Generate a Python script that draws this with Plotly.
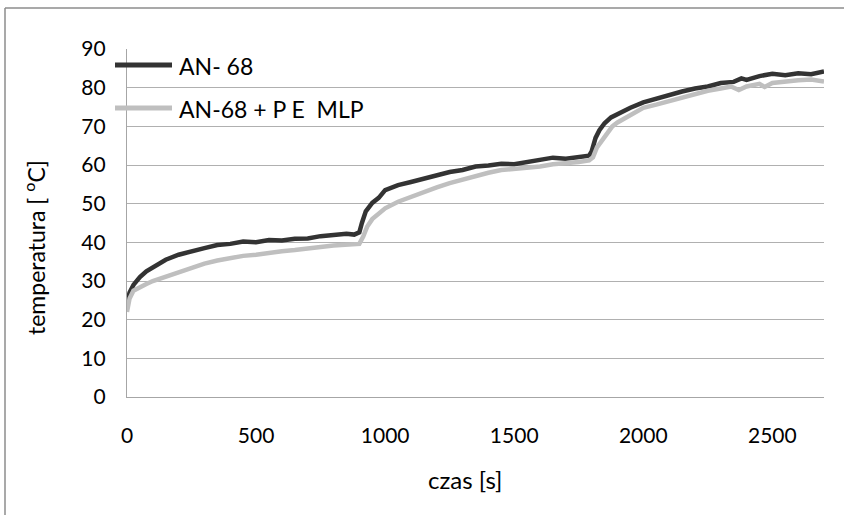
import plotly.graph_objects as go

# --- data ---
an68_x = [0, 10, 25, 50, 75, 100, 150, 200, 250, 300, 350, 400, 450, 500, 550, 600, 650, 700, 750, 800,
          850, 880, 900, 910, 925, 950, 975, 1000, 1025, 1050, 1100, 1150, 1200, 1250, 1300, 1350, 1400,
          1450, 1500, 1550, 1600, 1650, 1700, 1750, 1790, 1800, 1815, 1830, 1850, 1875, 1900, 1950, 2000,
          2050, 2100, 2150, 2200, 2250, 2300, 2350, 2380, 2400, 2450, 2500, 2550, 2600, 2650, 2700]
an68_y = [24.5, 27, 29, 31, 32.5, 33.5, 35.5, 36.8, 37.8, 38.5, 39.3, 39.6, 40.2, 40.0, 40.6, 40.5, 40.9,
          41.0, 41.6, 41.9, 42.2, 42.0, 42.6, 45, 48, 50.2, 51.5, 53.5, 54.2, 54.8, 55.6, 56.5, 57.3, 58.2,
          58.7, 59.6, 59.9, 60.3, 60.2, 60.8, 61.2, 61.9, 61.6, 62.2, 62.4, 63.5, 67, 69, 70.8, 72.3, 73.2,
          74.8, 76.2, 77.2, 78.3, 79.0, 79.8, 80.3, 81.2, 81.5, 82.4, 82.0, 83.0, 83.6, 83.2, 83.7, 83.5, 84.2]

pe_x = [0, 10, 25, 50, 75, 100, 150, 200, 250, 300, 350, 400, 450, 500, 550, 600, 650, 700, 750, 800,
        850, 900, 915, 930, 950, 975, 1000, 1050, 1100, 1150, 1200, 1250, 1300, 1350, 1400, 1450, 1500,
        1550, 1600, 1650, 1700, 1750, 1790, 1805, 1820, 1840, 1860, 1880, 1900, 1950, 2000, 2050, 2100,
        2150, 2200, 2250, 2300, 2340, 2370, 2400, 2450, 2470, 2500, 2550, 2600, 2650, 2700]
pe_y = [22, 25.5, 27.5, 28.5, 29.2, 30, 31.2, 32.2, 33.5, 34.5, 35.3, 35.9, 36.5, 36.8, 37.3, 37.7, 38.0,
        38.5, 38.8, 39.2, 39.4, 39.6, 41.5, 44, 46, 47.5, 48.8, 50.5, 51.8, 53, 54.2, 55.3, 56.3, 57.3,
        58.0, 58.7, 59.0, 59.3, 59.6, 60.2, 60.4, 60.8, 61.2, 62, 64.5, 66.5, 68.5, 70, 71, 73, 74.8, 75.6,
        76.5, 77.5, 78.3, 79.2, 79.8, 80.3, 79.4, 80.3, 81.0, 80.2, 81.2, 81.6, 81.9, 82.1, 81.6]

series_names = ["AN- 68", "AN-68 + P E  MLP"]
series_colors = ["#333333", "#bfbfbf"]
y_ticks = [0, 10, 20, 30, 40, 50, 60, 70, 80, 90]
x_ticks = [0, 500, 1000, 1500, 2000, 2500]

W, H = 844, 515
L, R, T, B = 127, 824, 49, 397
FONT = "Lato, Open Sans, sans-serif"


def px(x):
    return (x - L) / (R - L)


def py(y):
    return (B - y) / (B - T)


fig = go.Figure()
for xs, ys, name, col in [(an68_x, an68_y, series_names[0], series_colors[0]),
                          (pe_x, pe_y, series_names[1], series_colors[1])]:
    fig.add_trace(go.Scatter(x=xs, y=ys, mode="lines", name=name,
                             line=dict(color=col, width=4.5), showlegend=False))

shapes = [
    # white legend backdrop hiding gridlines
    dict(type="rect", xref="paper", yref="paper", x0=px(112), x1=px(391), y0=py(135), y1=py(44),
         fillcolor="white", line=dict(width=0), layer="between"),
    # outer chart frame (left and top visible)
    dict(type="line", xref="paper", yref="paper", x0=px(5), x1=px(900), y0=py(8), y1=py(8),
         line=dict(color="#8c8c8c", width=1.5)),
    dict(type="line", xref="paper", yref="paper", x0=px(5), x1=px(5), y0=py(8), y1=py(560),
         line=dict(color="#8c8c8c", width=1.5)),
    # legend samples
    dict(type="line", xref="paper", yref="paper", x0=px(115), x1=px(172), y0=py(65), y1=py(65),
         line=dict(color=series_colors[0], width=5)),
    dict(type="line", xref="paper", yref="paper", x0=px(115), x1=px(172), y0=py(108), y1=py(108),
         line=dict(color=series_colors[1], width=5)),
]

annotations = [
    dict(text=series_names[0], xref="paper", yref="paper", x=px(177), y=py(66), xanchor="left",
         yanchor="middle", showarrow=False, font=dict(family=FONT, size=23, color="black")),
    dict(text=series_names[1], xref="paper", yref="paper", x=px(177), y=py(109), xanchor="left",
         yanchor="middle", showarrow=False, font=dict(family=FONT, size=23, color="black")),
    dict(text="czas [s]", xref="paper", yref="paper", x=px(465), y=py(480), xanchor="center",
         yanchor="middle", showarrow=False, font=dict(family=FONT, size=24, color="black")),
    dict(text="temperatura [ <sup>o</sup>C]", xref="paper", yref="paper", x=px(34), y=py(248),
         xanchor="center", yanchor="middle", textangle=-90, showarrow=False,
         font=dict(family=FONT, size=23, color="black")),
]

fig.update_layout(
    width=W, height=H,
    margin=dict(l=L, r=W - R, t=T, b=H - B, pad=0),
    paper_bgcolor="white", plot_bgcolor="white",
    font=dict(family=FONT, size=21, color="black"),
    shapes=shapes, annotations=annotations,
    xaxis=dict(range=[0, 2700], tickvals=x_ticks, showgrid=False, zeroline=False,
               showline=True, linecolor="#a6a6a6", linewidth=1.3, ticks="", ticklen=0,
               tickfont=dict(family=FONT, size=21, color="black")),
    yaxis=dict(range=[0, 90], tickvals=y_ticks, showgrid=True, gridcolor="#b0b0b0", gridwidth=1.2,
               zeroline=False, showline=True, linecolor="#a6a6a6", linewidth=1.3, ticks="",
               tickfont=dict(family=FONT, size=21, color="black")),
)
fig.update_xaxes(ticklabelstandoff=20)
fig.update_yaxes(ticklabelstandoff=16)

fig.write_html("out.html")
